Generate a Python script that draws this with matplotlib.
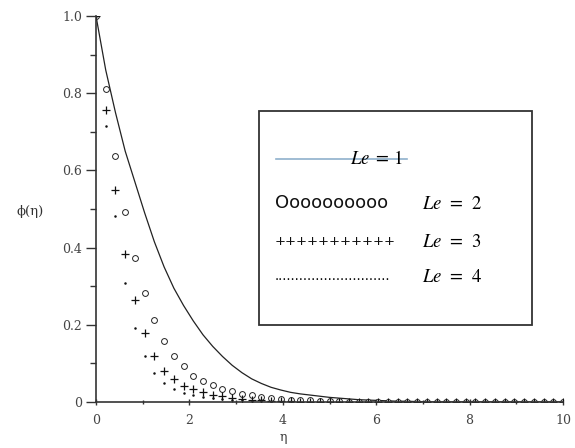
import numpy as np
import matplotlib
matplotlib.use('Agg')
import matplotlib.pyplot as plt
from matplotlib.patches import Rectangle

# --------------------------------------------------
# data (phi(eta) for four Lewis numbers)
# --------------------------------------------------
eta = np.linspace(0, 10, 49)

phi_le1 = [1.0, 0.86, 0.75, 0.65, 0.57, 0.49, 0.415, 0.35, 0.295, 0.25,
           0.21, 0.174, 0.144, 0.118, 0.095, 0.076, 0.060, 0.048, 0.038, 0.031,
           0.025, 0.021, 0.018, 0.015, 0.012, 0.010, 0.008, 0.006, 0.005, 0.004,
           0.003, 0.002, 0.002, 0.001, 0.0, 0.0, 0.0, 0.0, 0.0, 0.0,
           0.0, 0.0, 0.0, 0.0, 0.0, 0.0, 0.0, 0.0, 0.0]
phi_le2 = [1.0, 0.81, 0.638, 0.493, 0.372, 0.282, 0.212, 0.159, 0.119, 0.092,
           0.068, 0.055, 0.044, 0.033, 0.028, 0.022, 0.017, 0.013, 0.010, 0.008,
           0.006, 0.005, 0.004, 0.003, 0.002, 0.002, 0.001, 0.0, 0.0, 0.0,
           0.0, 0.0, 0.0, 0.0, 0.0, 0.0, 0.0, 0.0, 0.0, 0.0,
           0.0, 0.0, 0.0, 0.0, 0.0, 0.0, 0.0, 0.0, 0.0]
phi_le3 = [1.0, 0.756, 0.549, 0.383, 0.264, 0.18, 0.12, 0.081, 0.06, 0.042,
           0.033, 0.025, 0.019, 0.015, 0.011, 0.008, 0.006, 0.004, 0.003, 0.002,
           0.002, 0.001, 0.0, 0.0, 0.0, 0.0, 0.0, 0.0, 0.0, 0.0,
           0.0, 0.0, 0.0, 0.0, 0.0, 0.0, 0.0, 0.0, 0.0, 0.0,
           0.0, 0.0, 0.0, 0.0, 0.0, 0.0, 0.0, 0.0, 0.0]
phi_le4 = [1.0, 0.716, 0.482, 0.309, 0.193, 0.119, 0.076, 0.048, 0.033, 0.024,
           0.019, 0.014, 0.010, 0.007, 0.005, 0.004, 0.003, 0.002, 0.001, 0.0,
           0.0, 0.0, 0.0, 0.0, 0.0, 0.0, 0.0, 0.0, 0.0, 0.0,
           0.0, 0.0, 0.0, 0.0, 0.0, 0.0, 0.0, 0.0, 0.0, 0.0,
           0.0, 0.0, 0.0, 0.0, 0.0, 0.0, 0.0, 0.0, 0.0]

xticks = [0, 2, 4, 6, 8, 10]
yticks = [0, 0.2, 0.4, 0.6, 0.8, 1.0]
ytick_labels = ['0', '0.2', '0.4', '0.6', '0.8', '1.0']

plt.rcParams['mathtext.fontset'] = 'stix'

W, H = 575, 448
fig = plt.figure(figsize=(W / 100, H / 100), dpi=100)
ax = fig.add_axes([96 / W, 46 / H, 467 / W, 386 / H])

axcol = '#333333'
ax.plot(eta, phi_le1, color='#222222', lw=0.9)
ax.plot(eta, phi_le2, ls='none', marker='o', ms=4.2, mfc='white', mec='#222222', mew=0.7)
ax.plot(eta, phi_le3, ls='none', marker='+', ms=5.5, color='#111111', mew=0.9)
ax.plot(eta, phi_le4, ls='none', marker='o', ms=1.8, color='#111111', mew=0)

ax.set_xlim(0, 10)
ax.set_ylim(0, 1.0)
ax.spines['top'].set_visible(False)
ax.spines['right'].set_visible(False)
for s in ['left', 'bottom']:
    ax.spines[s].set_color(axcol)
    ax.spines[s].set_linewidth(1.2)

ax.set_xticks(xticks)
ax.set_xticks([1, 3, 5, 7, 9], minor=True)
ax.set_yticks(yticks)
ax.set_yticklabels(ytick_labels)
ax.set_yticks([0.1, 0.3, 0.5, 0.7, 0.9], minor=True)
ax.tick_params(axis='y', which='major', direction='out', length=7, width=1, color=axcol,
               labelsize=9, labelcolor='#444444', pad=3)
ax.tick_params(axis='y', which='minor', direction='out', length=4, width=1, color=axcol)
ax.tick_params(axis='x', which='major', direction='inout', length=5, width=1, color=axcol,
               labelsize=9, labelcolor='#444444', pad=6)
ax.tick_params(axis='x', which='minor', direction='inout', length=3, width=1, color=axcol)
for lab in ax.get_xticklabels() + ax.get_yticklabels():
    lab.set_family('DejaVu Serif')

fig.text(30 / W, 1 - 211 / H, 'ϕ(η)', ha='center', va='center', fontsize=9.5,
         family='DejaVu Serif', color='#333333')
fig.text(283 / W, 1 - 437 / H, 'η', ha='center', va='center', fontsize=9,
         family='DejaVu Serif', color='#333333')

# hand drawn legend box
fig.patches.append(Rectangle((259 / W, 1 - 325 / H), 273 / W, 214 / H, transform=fig.transFigure,
                             fill=False, edgecolor='#333333', lw=1.3))
fig.add_artist(plt.Line2D([276 / W, 407 / W], [1 - 159 / H, 1 - 159 / H], transform=fig.transFigure,
                          color='#8fb0cc', lw=1.2))
fig.text(350 / W, 1 - 159 / H, r'$Le\;=\,1$', ha='left', va='center', fontsize=13.5)
fig.text(275 / W, 1 - 203 / H, 'Oooooooooo', ha='left', va='center', fontsize=13,
         family='DejaVu Sans', color='#111111')
fig.text(275 / W, 1 - 241 / H, '+++++++++++', ha='left', va='center', fontsize=9.5,
         family='DejaVu Sans', color='#111111')
fig.text(275 / W, 1 - 283 / H, '.' * 28, ha='left', va='bottom', fontsize=11,
         family='Liberation Sans', color='#111111')
fig.text(422 / W, 1 - 203 / H, r'$Le\;\,=\;\,2$', ha='left', va='center', fontsize=13.5)
fig.text(422 / W, 1 - 241 / H, r'$Le\;\,=\;\,3$', ha='left', va='center', fontsize=13.5)
fig.text(422 / W, 1 - 277 / H, r'$Le\;\,=\;\,4$', ha='left', va='center', fontsize=13.5)

fig.savefig('out.png', dpi=100)
